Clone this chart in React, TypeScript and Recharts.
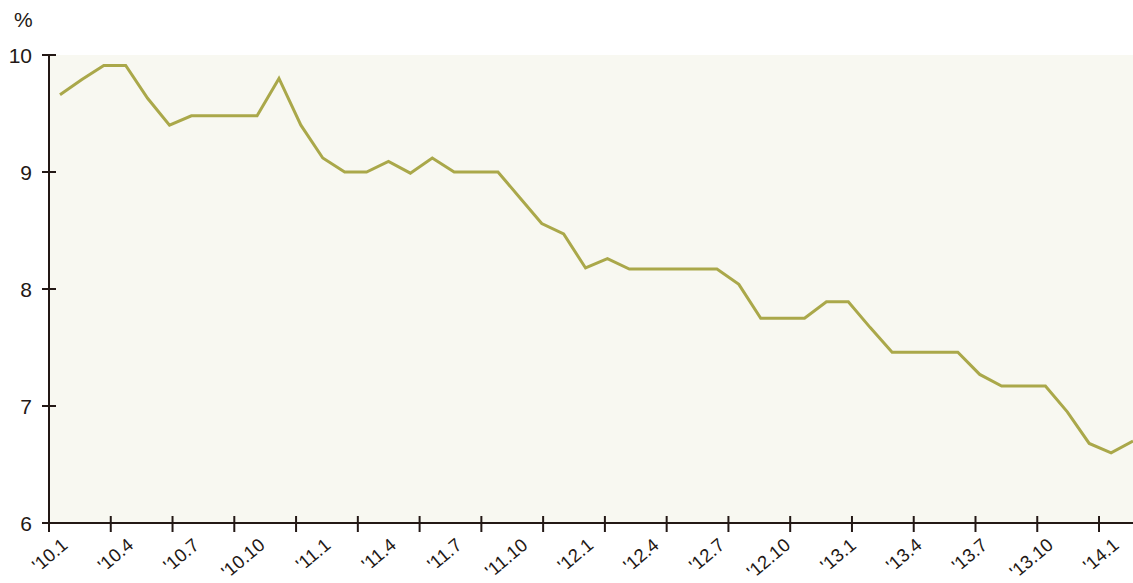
import React from 'react';
import { LineChart, Line, XAxis, YAxis, CartesianGrid } from 'recharts';

const months = [
  "'10.1", "'10.2", "'10.3", "'10.4", "'10.5", "'10.6", "'10.7", "'10.8", "'10.9", "'10.10", "'10.11", "'10.12",
  "'11.1", "'11.2", "'11.3", "'11.4", "'11.5", "'11.6", "'11.7", "'11.8", "'11.9", "'11.10", "'11.11", "'11.12",
  "'12.1", "'12.2", "'12.3", "'12.4", "'12.5", "'12.6", "'12.7", "'12.8", "'12.9", "'12.10", "'12.11", "'12.12",
  "'13.1", "'13.2", "'13.3", "'13.4", "'13.5", "'13.6", "'13.7", "'13.8", "'13.9", "'13.10", "'13.11", "'13.12",
  "'14.1", "'14.2",
];

const rates = [
  9.66, 9.79, 9.91, 9.91, 9.63, 9.40, 9.48, 9.48, 9.48, 9.48, 9.80, 9.40,
  9.12, 9.00, 9.00, 9.09, 8.99, 9.12, 9.00, 9.00, 9.00, 8.78, 8.56, 8.47,
  8.18, 8.26, 8.17, 8.17, 8.17, 8.17, 8.17, 8.04, 7.75, 7.75, 7.75, 7.89,
  7.89, 7.67, 7.46, 7.46, 7.46, 7.46, 7.27, 7.17, 7.17, 7.17, 6.95, 6.68,
  6.60, 6.70,
];

const yTicks = [6, 7, 8, 9, 10];
// tick marks along the bottom axis (one per quarter, drawn on their own scale)
const axisMarks = [0, 1, 2, 3, 4, 5, 6, 7, 8, 9, 10, 11, 12, 13, 14, 15, 16, 17];

const data = months.map((m, i) => ({ month: m, rate: rates[i] }));
const markData = axisMarks.map((k) => ({ k, base: 6 }));

const INK = '#231815';
const FONT = '"Liberation Sans", Arial, Helvetica, sans-serif';

const XLabelTick = (props: any) => {
  const { x, y, payload } = props;
  const bx = x + 9;
  const by = y + 24;
  return (
    <text
      x={bx}
      y={by}
      textAnchor="end"
      fontFamily={FONT}
      fontSize={18.5}
      fill={INK}
      transform={`rotate(-40 ${bx} ${by})`}
    >
      {payload.value}
    </text>
  );
};

const XMarkTick = (props: any) => {
  const { x, y } = props;
  return <line x1={x} y1={y - 8} x2={x} y2={y + 8} stroke={INK} strokeWidth={2} />;
};

const YTick = (props: any) => {
  const { x, y, payload } = props;
  return (
    <g>
      <line x1={x - 7} y1={y} x2={x + 7} y2={y} stroke={INK} strokeWidth={2} />
      <text x={x - 17} y={y} dy="0.36em" textAnchor="end" fontFamily={FONT} fontSize={21} fill={INK}>
        {payload.value}
      </text>
    </g>
  );
};

export default function App() {
  return (
    <div style={{ position: 'absolute', left: 0, top: 0, width: 1133, height: 583, overflow: 'hidden' }}>
      <div
        style={{
          position: 'absolute',
          left: 14,
          top: 8,
          fontFamily: FONT,
          fontSize: 21,
          lineHeight: '24px',
          color: INK,
        }}
      >
        %
      </div>
      <LineChart
        width={1133}
        height={583}
        data={data}
        margin={{ top: 55, left: 48, right: 0, bottom: 58 }}
      >
        <CartesianGrid fill="#f8f8f1" stroke="none" horizontal={false} vertical={false} />
        <XAxis
          dataKey="month"
          interval={2}
          height={1}
          padding={{ left: 11, right: 0 }}
          axisLine={{ stroke: INK, strokeWidth: 2 }}
          tickLine={false}
          tickSize={0}
          tickMargin={0}
          tick={<XLabelTick />}
        />
        <XAxis
          xAxisId="marks"
          type="number"
          dataKey="k"
          domain={[0, 17.55]}
          ticks={axisMarks}
          allowDataOverflow
          height={1}
          axisLine={false}
          tickLine={false}
          tickSize={0}
          tickMargin={0}
          tick={<XMarkTick />}
        />
        <YAxis
          domain={[6, 10]}
          ticks={yTicks}
          width={1}
          axisLine={{ stroke: INK, strokeWidth: 2 }}
          tickLine={false}
          tickSize={0}
          tickMargin={0}
          tick={<YTick />}
        />
        <Line
          xAxisId="marks"
          data={markData}
          dataKey="base"
          stroke="none"
          dot={false}
          activeDot={false}
          legendType="none"
          isAnimationActive={false}
        />
        <Line
          type="linear"
          dataKey="rate"
          stroke="#aaa84a"
          strokeWidth={3}
          dot={false}
          isAnimationActive={false}
        />
      </LineChart>
    </div>
  );
}
